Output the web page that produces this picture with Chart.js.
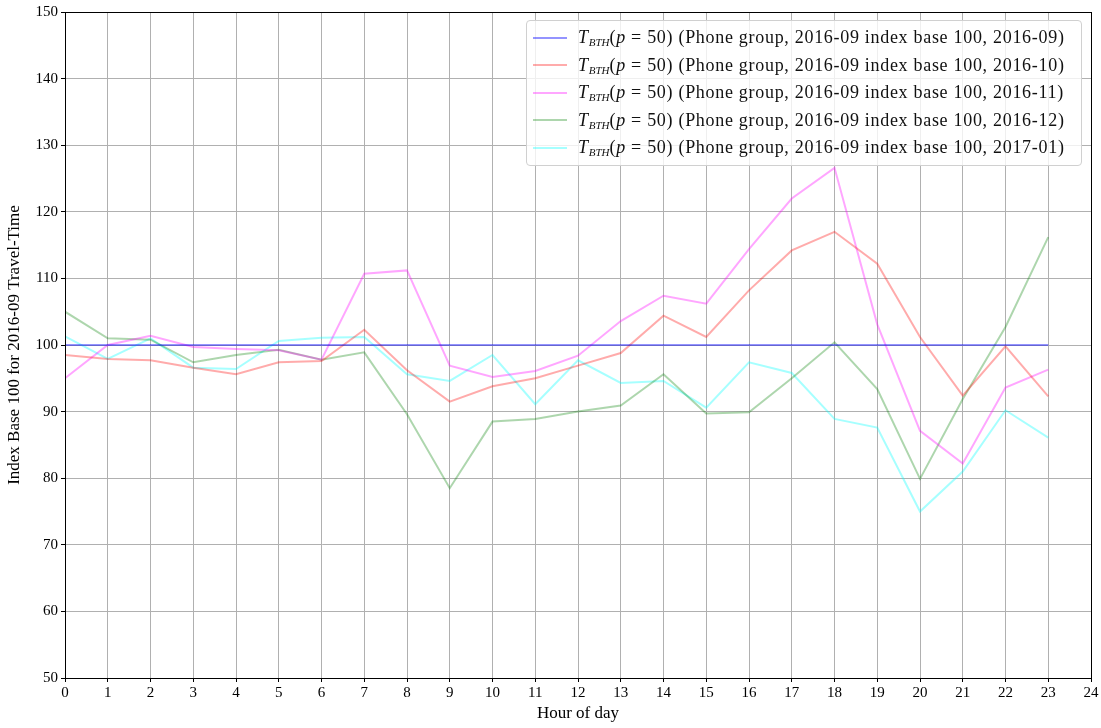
<!DOCTYPE html>
<html>
<head>
<meta charset="utf-8">
<script src="https://cdn.jsdelivr.net/npm/chart.js@4.4.1/dist/chart.umd.min.js"></script>
<style>
  body { margin: 0; background: #fff; }
  #wrap { position: relative; width: 1101px; height: 728px; }
  #legend {
    position: absolute; left: 526px; top: 20px; width: 540px;
    background: rgba(255,255,255,0.8); border: 1px solid #d0d0d0; border-radius: 4px;
    padding: 3px 8px 3px 6px; font-family: "Liberation Serif", serif; font-size: 18px;
    letter-spacing: 0.7px; color: #111;
  }
  #legend .row { display: flex; align-items: center; height: 27.5px; white-space: nowrap; }
  #legend .swatch { width: 34px; height: 2px; margin-right: 11px; flex: none; }
  #legend sub { font-size: 11px; font-style: italic; vertical-align: -3px; letter-spacing: 0; }
</style>
</head>
<body>
<div id="wrap">
  <canvas id="lineChart" width="1101" height="728"></canvas>
  <div id="legend"></div>
</div>
<script>
var hours = [0, 1, 2, 3, 4, 5, 6, 7, 8, 9, 10, 11, 12, 13, 14, 15, 16, 17, 18, 19, 20, 21, 22, 23];
var months = ['2016-09', '2016-10', '2016-11', '2016-12', '2017-01'];

var sep2016 = [100, 100, 100, 100, 100, 100, 100, 100, 100, 100, 100, 100,
               100, 100, 100, 100, 100, 100, 100, 100, 100, 100, 100, 100];
var oct2016 = [98.5, 97.9, 97.7, 96.6, 95.6, 97.4, 97.6, 102.3, 96.2, 91.5, 93.8, 95.0,
               96.9, 98.8, 104.4, 101.2, 108.2, 114.2, 117.0, 112.2, 101.2, 92.4, 99.8, 92.3];
var nov2016 = [95.0, 100.0, 101.4, 99.7, 99.4, 99.2, 97.8, 110.7, 111.2, 96.9, 95.2, 96.1,
               98.4, 103.6, 107.4, 106.2, 114.4, 122.0, 126.6, 103.1, 87.1, 82.2, 93.6, 96.3];
var dec2016 = [105.0, 101.0, 100.8, 97.4, 98.5, 99.3, 97.8, 98.9, 89.6, 78.5, 88.5, 88.9,
               90.0, 90.9, 95.6, 89.7, 89.9, 95.0, 100.4, 93.4, 79.9, 91.9, 102.7, 116.2];
var jan2017 = [101.3, 97.9, 101.0, 96.6, 96.4, 100.6, 101.1, 101.2, 95.6, 94.6, 98.5, 91.1,
               97.7, 94.3, 94.6, 90.6, 97.4, 95.8, 88.9, 87.6, 75.0, 81.0, 90.2, 86.1];

var seriesValues = [sep2016, oct2016, nov2016, dec2016, jan2017];
var seriesColors = ['rgba(0,0,255,0.42)', 'rgba(255,0,0,0.33)', 'rgba(255,0,255,0.35)',
                    'rgba(0,128,0,0.32)', 'rgba(0,255,255,0.35)'];

function points(values) {
  return values.map(function (v, i) { return { x: hours[i], y: v }; });
}

var datasets = seriesValues.map(function (vals, i) {
  return {
    label: 'T_BTH(p = 50) (Phone group, 2016-09 index base 100, ' + months[i] + ')',
    data: points(vals),
    borderColor: seriesColors[i],
    backgroundColor: seriesColors[i],
    borderWidth: 2,
    pointRadius: 0,
    fill: false,
    tension: 0
  };
});

// matplotlib-like frame on all four sides
var framePlugin = {
  id: 'frame',
  afterDatasetsDraw: function (chart) {
    var a = chart.chartArea, ctx = chart.ctx;
    ctx.save();
    ctx.strokeStyle = '#000';
    ctx.lineWidth = 1;
    ctx.strokeRect(a.left + 0.5, a.top + 0.5, a.right - a.left, a.bottom - a.top);
    ctx.restore();
  }
};

var tickFont = { family: 'Liberation Serif', size: 15 };

var ctx = document.getElementById('lineChart').getContext('2d');
var chart = new Chart(ctx, {
  type: 'line',
  data: { datasets: datasets },
  options: {
    responsive: false,
    animation: false,
    layout: { padding: { top: 12, right: 10, left: 0, bottom: 0 } },
    plugins: { legend: { display: false }, tooltip: { enabled: false } },
    scales: {
      x: {
        type: 'linear', min: 0, max: 24,
        ticks: { stepSize: 1, color: '#000', font: tickFont, padding: 2, maxRotation: 0 },
        grid: { color: '#b0b0b0', tickColor: '#000', tickLength: 4 },
        border: { color: '#000' },
        title: { display: true, text: 'Hour of day', color: '#000',
                 font: { family: 'Liberation Serif', size: 17 }, padding: { top: 2 } },
        afterFit: function (s) { s.height = 50; }
      },
      y: {
        min: 50, max: 150,
        ticks: { stepSize: 10, color: '#000', font: tickFont, padding: 3 },
        grid: { color: '#b0b0b0', tickColor: '#000', tickLength: 4 },
        border: { color: '#000' },
        title: { display: true, text: 'Index Base 100 for 2016-09 Travel-Time', color: '#000',
                 font: { family: 'Liberation Serif', size: 17 }, padding: { bottom: 4 } },
        afterFit: function (s) { s.width = 65; }
      }
    }
  },
  plugins: [framePlugin]
});

// legend built as html so the subscript stays real text
var legend = document.getElementById('legend');
months.forEach(function (m, i) {
  var row = document.createElement('div');
  row.className = 'row';
  row.innerHTML = '<span class="swatch" style="background:' + seriesColors[i] + '"></span>' +
    '<span><i>T</i><sub>BTH</sub>(<i>p</i> = 50) (Phone group, 2016-09 index base 100, ' + m + ')</span>';
  legend.appendChild(row);
});
</script>
</body>
</html>
